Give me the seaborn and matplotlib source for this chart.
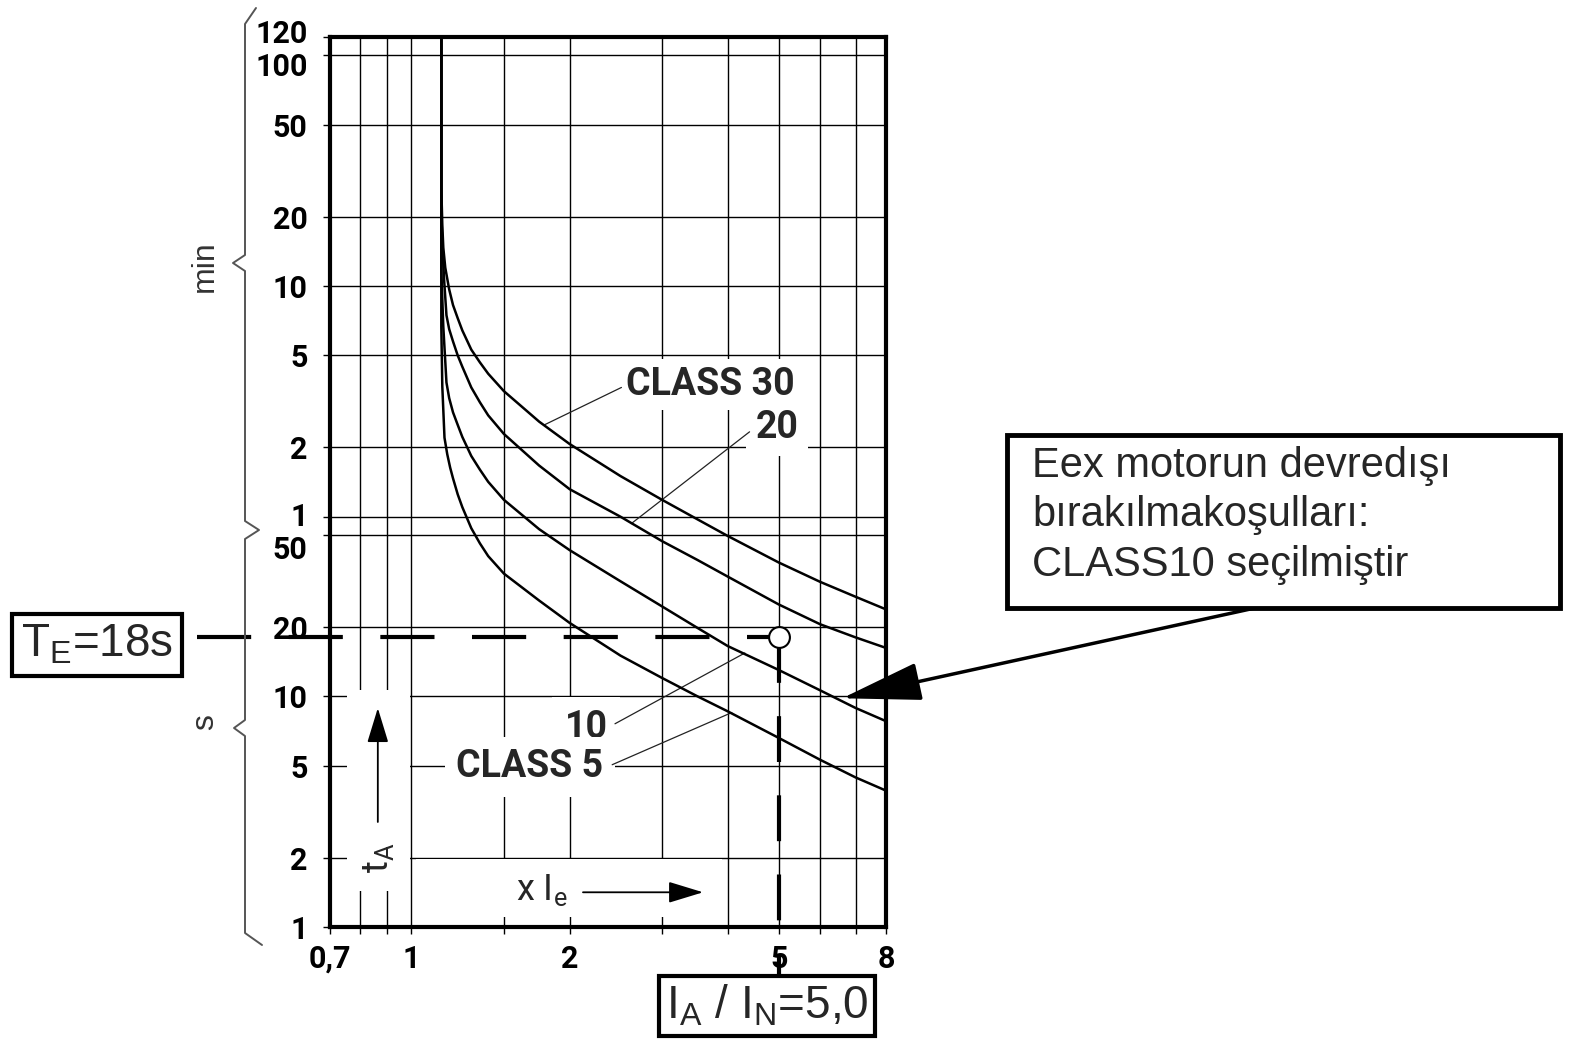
import matplotlib
matplotlib.use('Agg')
import matplotlib.pyplot as plt
import matplotlib.transforms as mtrans
import pandas as pd
import seaborn as sns
from matplotlib.patches import Rectangle
from matplotlib.lines import Line2D
from matplotlib.ticker import NullFormatter

# trip curves: multiple of Ie -> trip time (s)
x_class30 = [1.14, 1.14, 1.145, 1.15, 1.16, 1.18, 1.2, 1.225, 1.25, 1.3, 1.35, 1.4, 1.5,
             1.75, 2, 2.5, 3, 3.5, 4, 5, 6, 7, 8]
t_class30 = [7200, 1600, 1100, 880, 720, 580, 496, 435, 385, 318, 280, 250, 210,
             155, 124, 90, 71, 58.5, 49.5, 38, 31.3, 27, 23.8]
x_class20 = [1.14, 1.14, 1.145, 1.155, 1.166, 1.18, 1.2, 1.225, 1.25, 1.3, 1.35, 1.4, 1.5,
             1.75, 2, 2.5, 3, 3.5, 4, 5, 6, 7, 8]
t_class20 = [7200, 1300, 900, 620, 448, 390, 345, 300, 268, 218, 188, 165, 137,
             100, 79, 60, 47, 39, 33, 25, 20.5, 18, 16.2]
x_class10 = [1.14, 1.14, 1.15, 1.166, 1.18, 1.2, 1.225, 1.25, 1.3, 1.35, 1.4, 1.5,
             1.75, 2, 2.5, 3, 3.5, 4, 5, 6, 7, 8]
t_class10 = [7200, 700, 400, 229, 196, 170, 150, 133, 110, 96, 85, 71,
             53, 43, 31.5, 24.5, 19.8, 16.5, 13.0, 10.6, 8.9, 7.8]
x_class5 = [1.14, 1.14, 1.145, 1.156, 1.17, 1.185, 1.2, 1.225, 1.25, 1.3, 1.35, 1.4, 1.5,
            1.75, 2, 2.5, 3, 3.5, 4, 5, 6, 7, 8]
t_class5 = [7200, 400, 220, 132, 112, 98, 88, 75, 66, 53.5, 46, 40.5, 34,
            26, 20.8, 15, 12, 10, 8.6, 6.6, 5.3, 4.45, 3.9]

# axis ticks (y in seconds, labels in s below 1 min and in min above)
x_major = [0.7, 1, 2, 5, 8]
x_labels = ['0,7', '1', '2', '5', '8']
x_minor = [0.8, 0.9, 1.5, 3, 4, 6, 7]
y_ticks = [1, 2, 5, 10, 20, 50, 60, 120, 300, 600, 1200, 3000, 6000, 7200]
y_labels = ['1', '2', '5', '10', '20', '50', '1', '2', '5', '10', '20', '50', '100', '120']

# selected operating point
te_s = 18     # T_E in seconds
ia_in = 5.0   # I_A / I_N

sns.set_theme(style='white')
plt.rcParams['font.family'] = ['Roboto', 'DejaVu Sans']
plt.rcParams['mathtext.default'] = 'regular'

W, H = 1585, 1046
fig = plt.figure(figsize=(W / 100, H / 100), dpi=100)
ax = fig.add_axes([330 / W, 1 - 927 / H, 556 / W, 890 / H])

df = pd.concat([
    pd.DataFrame({'xie': x_class30, 't': t_class30, 'cls': 'CLASS 30'}),
    pd.DataFrame({'xie': x_class20, 't': t_class20, 'cls': 'CLASS 20'}),
    pd.DataFrame({'xie': x_class10, 't': t_class10, 'cls': 'CLASS 10'}),
    pd.DataFrame({'xie': x_class5, 't': t_class5, 'cls': 'CLASS 5'}),
], ignore_index=True)

sns.lineplot(data=df, x='xie', y='t', hue='cls', estimator=None, sort=False,
             palette=['black'] * 4, linewidth=1.8, legend=False, ax=ax, zorder=3)

ax.set_xscale('log')
ax.set_yscale('log')
ax.set_xlim(0.7, 8)
ax.set_ylim(1, 7200)
ax.set_xlabel('')
ax.set_ylabel('')

ax.set_xticks(x_major, x_labels)
ax.set_xticks(x_minor, minor=True)
ax.xaxis.set_minor_formatter(NullFormatter())
ax.set_yticks(y_ticks, y_labels)
ax.set_yticks([], minor=True)

ax.set_axisbelow(True)
ax.grid(True, which='both', color='black', linewidth=1.0)
for s in ax.spines.values():
    s.set_visible(True)
    s.set_color('black')
    s.set_linewidth(3)
ax.tick_params(axis='both', which='both', direction='out', length=5, width=1,
               colors='black', bottom=True, left=True, labelsize=22)
ax.tick_params(axis='y', pad=11)
ax.tick_params(axis='x', pad=7)
for lbl in ax.get_xticklabels() + ax.get_yticklabels():
    lbl.set_fontweight('bold')

# nudge crowded y labels like the original
shift = {5: -9, 6: 2, 12: -6, 13: 4}
for i, lbl in enumerate(ax.get_yticklabels()):
    if i in shift:
        lbl.set_transform(lbl.get_transform() +
                          mtrans.ScaledTranslation(0, shift[i] / 72, fig.dpi_scale_trans))

# white areas that interrupt the grid
ax.add_patch(Rectangle((0.755, 1.43), 0.995 - 0.755, 10.6 - 1.43, fc='white', ec='none', zorder=1))
ax.add_patch(Rectangle((1.02, 1.1), 3.9 - 1.02, 1.97 - 1.1, fc='white', ec='none', zorder=1))

# curve labels with leader lines
lab_kw = dict(ha='center', va='center', fontsize=27, fontweight='bold', zorder=2.6)
ax.text(3.71, 224, 'CLASS 30', bbox=dict(fc='white', ec='none', pad=5), **lab_kw)
ax.text(4.96, 146, '20', bbox=dict(fc='white', ec='none', pad=7), **lab_kw)
ax.text(2.15, 7.3, '10', bbox=dict(fc='white', ec='none', pad=9), **lab_kw)
ax.text(1.68, 4.94, 'CLASS 5', bbox=dict(fc='white', ec='none', pad=8), **lab_kw)
lead_kw = dict(color='#222222', linewidth=0.9, zorder=2.7)
ax.plot([2.51, 1.79], [218, 150], **lead_kw)
ax.plot([4.40, 2.62], [140, 56], **lead_kw)
ax.plot([2.44, 4.31], [7.6, 15.4], **lead_kw)
ax.plot([2.41, 4.07], [5.05, 8.5], **lead_kw)

# axis direction hints inside the plot
arr_kw = dict(arrowstyle='-|>,head_length=1.8,head_width=0.55', color='black', lw=1.3,
              shrinkA=0, shrinkB=0)
ax.annotate('', xy=(0.086, 0.246), xytext=(0.086, 0.118), xycoords='axes fraction',
            arrowprops=arr_kw, zorder=4)
ax.text(0.086, 0.078, r't$_A$', transform=ax.transAxes, rotation=90, ha='center', va='center',
        fontsize=26, zorder=4)
ax.text(0.381, 0.042, r'x I$_e$', transform=ax.transAxes, ha='center', va='center',
        fontsize=26, zorder=4)
ax.annotate('', xy=(0.671, 0.039), xytext=(0.455, 0.039), xycoords='axes fraction',
            arrowprops=arr_kw, zorder=4)

# dashed guide lines to the operating point
xmin, xmax = ax.get_xlim()
ymin, ymax = ax.get_ylim()
x_left = xmin * (xmax / xmin) ** (-0.239)
y_low = ymin * (ymax / ymin) ** (-0.054)
ax.plot([x_left, ia_in], [te_s, te_s], color='black', lw=3, dashes=(13, 9), clip_on=False, zorder=4)
ax.plot([ia_in, ia_in], [te_s, y_low], color='black', lw=3, dashes=(11, 8), clip_on=False, zorder=4)
ax.plot([ia_in], [te_s], 'o', ms=15, mfc='white', mec='black', mew=1.5, zorder=6, clip_on=False)

# braces on the left marking minutes / seconds
def fpx(x, y):
    return x / W, 1 - y / H

brace = [(256, 8), (245, 24), (245, 255), (233, 263), (245, 271), (245, 521), (259, 530),
         (245, 539), (245, 720), (234, 728), (245, 736), (245, 933), (262, 945)]
bx, by = zip(*[fpx(*p) for p in brace])
fig.add_artist(Line2D(bx, by, color='#555555', lw=1.4, transform=fig.transFigure))
fig.text(*fpx(205, 266), 'min', rotation=90, ha='center', va='center', fontsize=23,
         color='#333333', family=['Liberation Sans', 'DejaVu Sans'])
fig.text(*fpx(205, 722), 's', rotation=90, ha='center', va='center', fontsize=23,
         color='#333333', family=['Liberation Sans', 'DejaVu Sans'])

# annotation boxes
box_font = ['Liberation Sans', 'DejaVu Sans']
fig.text(*fpx(21, 645), r'T$_E$=18s', ha='left', va='center', fontsize=33, family=box_font,
         bbox=dict(boxstyle='square,pad=0.2', fc='white', ec='black', lw=3))
fig.text(*fpx(666, 1006), r'I$_A$ / I$_N$=5,0', ha='left', va='center', fontsize=33, family=box_font,
         bbox=dict(boxstyle='square,pad=0.15', fc='white', ec='black', lw=3), zorder=7)

x0, y0 = fpx(1007, 608)
fig.add_artist(Rectangle((x0, y0), (1560 - 1007) / W, (608 - 435) / H, fc='white', ec='black',
                         lw=3.5, transform=fig.transFigure))
fig.text(*fpx(1032, 446), 'Eex motorun devredışı\nbırakılmakoşulları:\nCLASS10 seçilmiştir',
         ha='left', va='top', fontsize=30, family=box_font, linespacing=1.3)
ax.annotate('', xy=(6.6, 9.8), xycoords='data', xytext=(1255, H - 608), textcoords='figure pixels',
            arrowprops=dict(arrowstyle='-|>,head_length=5,head_width=1.2', mutation_scale=10,
                            color='black', lw=2.5, shrinkA=0, shrinkB=0), annotation_clip=False, zorder=6)

plt.savefig('out.png', dpi=100)
